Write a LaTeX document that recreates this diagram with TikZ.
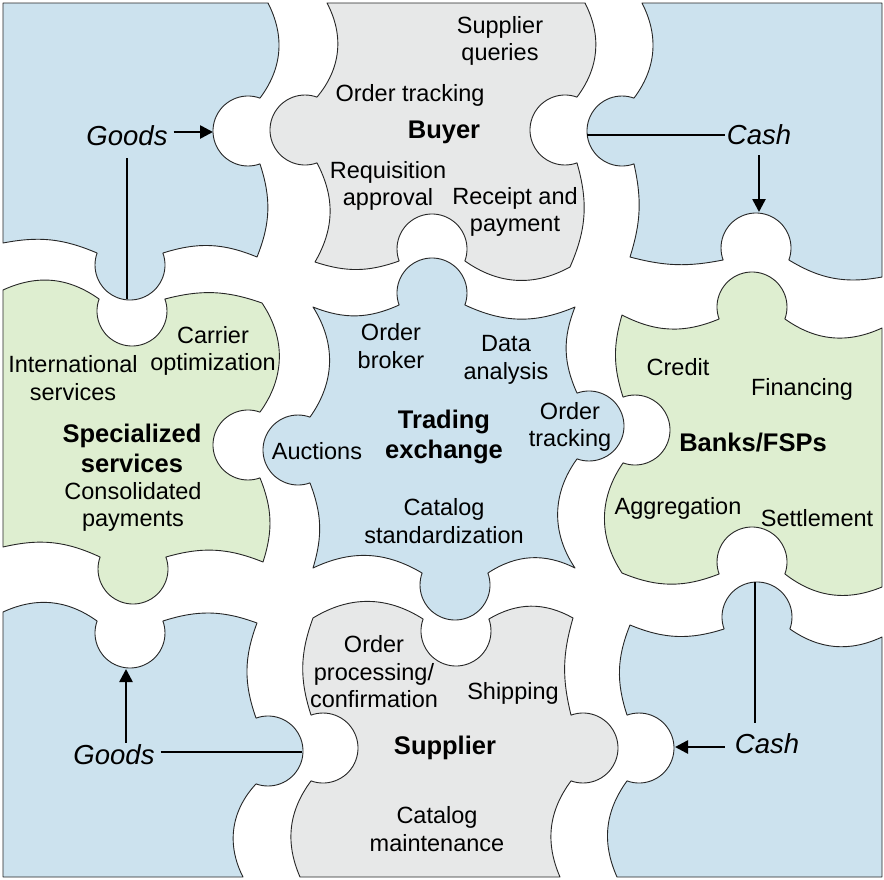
\documentclass[tikz,border=0pt]{standalone}
\usepackage{fontspec}
\setmainfont{Liberation Sans}
\usetikzlibrary{calc,arrows.meta}
\definecolor{pblue}{RGB}{204,226,238}
\definecolor{pgrey}{RGB}{231,232,232}
\definecolor{pgreen}{RGB}{222,238,208}
% tabs (knobs out) and holes on the four sides; args: cx, cy, r, bend of edge leading to it
\newcommand\tabT[4]{to[bend left=#4] ($(#1,#2)+(160:#3)$) arc[start angle=160,end angle=380,radius=#3]}
\newcommand\tabR[4]{to[bend left=#4] ($(#1,#2)+(250:#3)$) arc[start angle=250,end angle=470,radius=#3]}
\newcommand\tabB[4]{to[bend left=#4] ($(#1,#2)+(340:#3)$) arc[start angle=340,end angle=560,radius=#3]}
\newcommand\tabL[4]{to[bend left=#4] ($(#1,#2)+(70:#3)$) arc[start angle=70,end angle=290,radius=#3]}
\newcommand\holT[4]{to[bend left=#4] ($(#1,#2)+(200:#3)$) arc[start angle=200,end angle=-20,radius=#3]}
\newcommand\holR[4]{to[bend left=#4] ($(#1,#2)+(-70:#3)$) arc[start angle=-70,end angle=-290,radius=#3]}
\newcommand\holB[4]{to[bend left=#4] ($(#1,#2)+(20:#3)$) arc[start angle=20,end angle=-200,radius=#3]}
\newcommand\holL[4]{to[bend left=#4] ($(#1,#2)+(110:#3)$) arc[start angle=110,end angle=-110,radius=#3]}
\begin{document}
\begin{tikzpicture}[x=1pt,y=-1pt,
  piece/.style={draw=black!85,line width=0.9pt,line join=round},
  lbl/.style={font=\fontsize{23.5}{27.5}\selectfont,align=center,inner sep=1pt},
  ttl/.style={font=\fontsize{25.5}{30}\selectfont\bfseries,align=center,inner sep=1pt},
  flow/.style={font=\fontsize{27.5}{32}\selectfont\itshape,inner sep=2pt},
  link/.style={line width=2.6pt},
  arr/.style={line width=2.6pt,-{Triangle[length=13pt,width=13pt]}}]
\useasboundingbox (0,0) rectangle (884,879);
\fill[white] (0,0) rectangle (884,879);

% top-left (blue)
\path[piece,fill=pblue] (3,3) -- (268,3) \holR{248}{131}{35}{32} to[bend left=20] (257,257)
  \tabB{130}{265}{35}{-20} to[bend left=-17] (3,243) -- cycle;
% buyer (grey)
\path[piece,fill=pgrey] (327,3) -- (585,3) \holR{565}{130}{35}{32} to[bend left=20] (570,267)
  \holB{432}{249}{35}{32} to[bend left=19] (315,262) \tabL{305}{130}{35}{-29} to[bend left=-34] (327,3) -- cycle;
% top-right (blue)
\path[piece,fill=pblue] (642,3) -- (882,3) -- (882,277) \holB{756}{248}{35}{21} to[bend left=13] (630,257)
  \tabL{622}{131}{35}{-15} to[bend left=-32] (642,3) -- cycle;
% specialized services (green)
\path[piece,fill=pgreen] (3,290) \holT{132}{311}{35}{30} to[bend left=17] (262,303)
  \holR{248}{445}{35}{35} to[bend left=20] (263,562) \tabB{133}{569}{35}{-19} to[bend left=-19] (3,547) -- cycle;
% trading exchange (blue)
\path[piece,fill=pblue] (313,307) \tabT{432}{293}{35}{-23} to[bend left=-24] (575,307)
  \tabR{589}{426}{35}{-23} to[bend left=-35] (575,568) \tabB{455}{585}{35}{-30} to[bend left=-28] (313,568)
  \tabL{298}{450}{35}{-19} to[bend left=-34] (313,307) -- cycle;
% banks (green)
\path[piece,fill=pgreen] (622,315) \tabT{752}{307}{35}{-25} to[bend left=-30] (882,328) -- (882,587)
  \holB{752}{562}{35}{30} to[bend left=22] (622,573) \holL{635}{430}{35}{34} to[bend left=17] (622,315) -- cycle;
% bottom-left (blue)
\path[piece,fill=pblue] (3,612) \holT{130}{633}{35}{30} to[bend left=19] (257,623)
  \tabR{268}{751}{35}{-20} to[bend left=-35] (243,877) -- (3,877) -- cycle;
% supplier (grey)
\path[piece,fill=pgrey] (313,618) \holT{456}{631}{35}{32} to[bend left=30] (573,618)
  \tabR{583}{748}{35}{-15} to[bend left=-30] (560,877) -- (300,877) \holL{323}{748}{35}{30} to[bend left=19] (313,618) -- cycle;
% bottom-right (blue)
\path[piece,fill=pblue] (630,625) \tabT{757}{617}{35}{-20} to[bend left=-30] (882,637) -- (882,877) -- (617,877)
  \holL{639}{748}{35}{30} to[bend left=20] (630,625) -- cycle;

% buyer texts
\node[lbl] (sq) at (500,41) {Supplier\\queries};
\node[lbl] (ot) at (410,95) {Order tracking};
\node[ttl] (buyer) at (444,132) {Buyer};
\node[lbl] (ra) at (388,186) {Requisition\\approval};
\node[lbl] (rp) at (515,212) {Receipt and\\payment};
% trading exchange texts
\node[lbl] (ob) at (391,346) {Order\\broker};
\node[lbl] (da) at (506,360) {Data\\analysis};
\node[lbl] (otr) at (570,427) {Order\\tracking};
\node[ttl] (te) at (444,437) {Trading\\exchange};
\node[lbl] (auc) at (317,451) {Auctions};
\node[lbl] (cs) at (444,521) {Catalog\\standardization};
% specialized services texts
\node[lbl] (co) at (213,351) {Carrier\\optimization};
\node[lbl] (is) at (73,378) {International\\services};
\node[ttl] (ss) at (132,448) {Specialized\\services};
\node[lbl] (cp) at (133,507) {Consolidated\\payments};
% banks texts
\node[lbl] (cr) at (678,367) {Credit};
\node[lbl] (fi) at (802,389) {Financing};
\node[ttl] (bk) at (753,443) {Banks/FSPs};
\node[lbl] (ag) at (678,508) {Aggregation};
\node[lbl] (se) at (817,518) {Settlement};
% supplier texts
\node[lbl] (opc) at (374,672) {Order\\processing/\\confirmation};
\node[lbl] (sh) at (513,693) {Shipping};
\node[ttl] (sup) at (445,748) {Supplier};
\node[lbl] (cm) at (437,829) {Catalog\\maintenance};

% flows
\node[flow] (goodsA) at (127,136) {Goods};
\coordinate (goodsAtip) at (213,132);
\coordinate (goodsAend) at (127,299);
\draw[arr] ($(goodsA.east |- goodsAtip)+(4,0)$) -- (goodsAtip);
\draw[link] ($(goodsA.south)+(0,10)$) -- (goodsAend);

\node[flow] (cashA) at (759,135) {Cash};
\coordinate (cashAstart) at (587,135);
\coordinate (cashAtip) at (759,212);
\draw[link] (cashAstart) -- (cashA.west);
\draw[arr] ($(cashA.south)+(0,8)$) -- (cashAtip);

\node[flow] (goodsB) at (114,755) {Goods};
\coordinate (goodsBend) at (302,752);
\coordinate (goodsBtip) at (126,669);
\draw[link] ($(goodsB.east |- goodsBend)+(4,0)$) -- (goodsBend);
\draw[arr] (goodsBtip |- goodsB.north) -- (goodsBtip);

\node[flow] (cashB) at (767,744) {Cash};
\coordinate (cashBtip) at (675,747);
\coordinate (cashBtop) at (755,582);
\draw[arr] ($(cashB.west |- cashBtip)+(-8,0)$) -- (cashBtip);
\draw[link] (cashBtop) -- ($(cashBtop |- cashB.north)+(0,-9)$);
\end{tikzpicture}
\end{document}
